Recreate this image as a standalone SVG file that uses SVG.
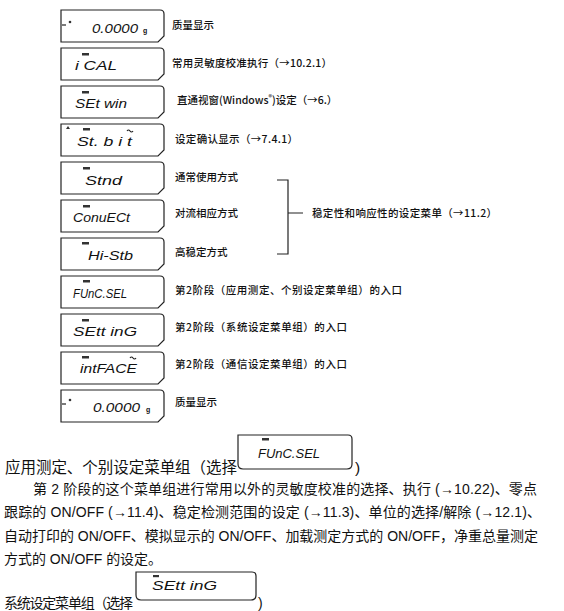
<svg xmlns="http://www.w3.org/2000/svg" width="564" height="611" viewBox="0 0 564 611">
<style>
.bx{fill:#fff;stroke:#222;stroke-width:1.2}
.lcd{font-family:"Liberation Sans","DejaVu Sans",sans-serif;font-style:italic;font-size:12.5px;fill:#111}
.g{font-family:"Liberation Sans",sans-serif;font-size:7px;font-weight:bold;fill:#111}
.lb{font-family:"Noto Sans CJK SC","Liberation Sans",sans-serif;font-size:10.5px;font-weight:500;fill:#111}
.p{font-family:"Liberation Sans","Noto Sans CJK SC",sans-serif;font-size:14px;fill:#111}
.h{font-family:"Liberation Sans","Noto Sans CJK SC",sans-serif;font-size:15.5px;fill:#111}
.mn{fill:#333}
.ln{stroke:#222;stroke-width:1.2;fill:none}
</style>
<defs>
<path id="box" d="M0,0 H99 Q103,0 103,4 V26 L97,32 H0 Z"/>
</defs>
<rect width="564" height="611" fill="#fff"/>

<g id="n1">
<use href="#box" x="61" y="10" class="bx"/>
<line x1="62" y1="25" x2="66" y2="25" class="ln"/>
<circle cx="70" cy="22" r="1.3" class="mn"/>
<text x="92" y="33" class="lcd" textLength="46" lengthAdjust="spacingAndGlyphs">0.0000</text>
<text x="143" y="33" class="g">g</text>
<text x="172" y="29" class="lb">质量显示</text>
</g>

<g id="n2">
<use href="#box" x="61" y="48" class="bx"/>
<rect x="82" y="53" width="7" height="2.5" class="mn"/>
<text x="75" y="70" class="lcd" textLength="42" lengthAdjust="spacingAndGlyphs">i CAL</text>
<text x="172" y="67" class="lb" textLength="160" lengthAdjust="spacing">常用灵敏度校准执行（→10.2.1）</text>
</g>

<g id="n3">
<use href="#box" x="61" y="86" class="bx"/>
<rect x="82" y="91" width="7" height="2.5" class="mn"/>
<text x="75" y="108" class="lcd" textLength="52" lengthAdjust="spacingAndGlyphs">SEt win</text>
<text x="177" y="104" class="lb">直通视窗(Windows<tspan font-size="7" dy="-4">®</tspan><tspan dy="4">)设定（→6.）</tspan></text>
</g>

<g id="n4">
<use href="#box" x="61" y="124" class="bx"/>
<path d="M66,129 L68,126 L70,129 Z" class="mn"/>
<rect x="83" y="128" width="7" height="2.5" class="mn"/>
<path d="M127,131 q1.5,-2 3,0 q1.5,2 3,0" class="ln" stroke-width="0.8"/>
<text x="77" y="146" class="lcd" textLength="55" lengthAdjust="spacingAndGlyphs">St. b i t</text>
<text x="175" y="143" class="lb" textLength="123" lengthAdjust="spacing">设定确认显示（→7.4.1）</text>
</g>

<g id="n5">
<use href="#box" x="61" y="162" class="bx"/>
<rect x="83" y="167" width="7" height="2.5" class="mn"/>
<text x="85" y="185" class="lcd" textLength="37" lengthAdjust="spacingAndGlyphs">Stnd</text>
<text x="175" y="181" class="lb">通常使用方式</text>
</g>

<g id="n6">
<use href="#box" x="61" y="200" class="bx"/>
<rect x="83" y="205" width="7" height="2.5" class="mn"/>
<text x="73" y="222" class="lcd" textLength="57" lengthAdjust="spacingAndGlyphs">ConuECt</text>
<text x="175" y="217" class="lb">对流相应方式</text>
</g>

<g id="n7">
<use href="#box" x="61" y="238" class="bx"/>
<rect x="82" y="242" width="7" height="2.5" class="mn"/>
<text x="88" y="260" class="lcd" textLength="45" lengthAdjust="spacingAndGlyphs">Hi-Stb</text>
<text x="175" y="256" class="lb">高稳定方式</text>
</g>

<g id="n8">
<use href="#box" x="61" y="276" class="bx"/>
<rect x="83" y="280" width="7" height="2.5" class="mn"/>
<text x="73" y="298" class="lcd" textLength="54" lengthAdjust="spacingAndGlyphs">FUnC.SEL</text>
<text x="175" y="294" class="lb" textLength="227" lengthAdjust="spacing">第2阶段（应用测定、个别设定菜单组）的入口</text>
</g>

<g id="n9">
<use href="#box" x="61" y="314" class="bx"/>
<rect x="82" y="319" width="7" height="2.5" class="mn"/>
<text x="73" y="336" class="lcd" textLength="64" lengthAdjust="spacingAndGlyphs">SEtt inG</text>
<text x="175" y="331" class="lb" textLength="172" lengthAdjust="spacing">第2阶段（系统设定菜单组）的入口</text>
</g>

<g id="n10">
<use href="#box" x="61" y="352" class="bx"/>
<rect x="82" y="356" width="7" height="2.5" class="mn"/>
<path d="M130,358 q1.5,-2 3,0 q1.5,2 3,0" class="ln" stroke-width="0.8"/>
<text x="80" y="373" class="lcd" textLength="57" lengthAdjust="spacingAndGlyphs">intFACE</text>
<text x="175" y="368" class="lb" textLength="172" lengthAdjust="spacing">第2阶段（通信设定菜单组）的入口</text>
</g>

<g id="n11">
<use href="#box" x="61" y="390" class="bx"/>
<line x1="62" y1="404" x2="66" y2="404" class="ln"/>
<circle cx="70" cy="400" r="1.3" class="mn"/>
<text x="93" y="412" class="lcd" textLength="47" lengthAdjust="spacingAndGlyphs">0.0000</text>
<text x="146" y="412" class="g">g</text>
<text x="175" y="406" class="lb">质量显示</text>
</g>

<g id="connectors">
<path d="M277,180 H288 V254 H277 M288,213 H303" class="ln"/>
</g>
<g id="bracket-label">
<text x="312" y="217" class="lb" textLength="185" lengthAdjust="spacing">稳定性和响应性的设定菜单（→11.2）</text>
</g>

<g id="para">
<text x="5" y="473" class="h" textLength="232" lengthAdjust="spacing">应用测定、个别设定菜单组（选择</text>
<g id="inline-funcsel">
<path d="M238,435 H348 Q352,435 352,439 V464 Q352,469 347,469 H243 Q238,469 238,464 Z" class="bx"/>
<rect x="262" y="438" width="7" height="2.5" class="mn"/>
<text x="258" y="458" class="lcd" textLength="62" lengthAdjust="spacingAndGlyphs">FUnC.SEL</text>
</g>
<text x="355" y="473" class="h">)</text>
<text x="33" y="494" class="p" textLength="504" lengthAdjust="spacing">第 2 阶段的这个菜单组进行常用以外的灵敏度校准的选择、执行 (→10.22)、零点</text>
<text x="4" y="517" class="p" textLength="537" lengthAdjust="spacing">跟踪的 ON/OFF (→11.4)、稳定检测范围的设定 (→11.3)、单位的选择/解除 (→12.1)、</text>
<text x="4" y="541" class="p" textLength="534" lengthAdjust="spacing">自动打印的 ON/OFF、模拟显示的 ON/OFF、加载测定方式的 ON/OFF，净重总量测定</text>
<text x="4" y="564" class="p" textLength="158" lengthAdjust="spacing">方式的 ON/OFF 的设定。</text>
<text x="4" y="608" class="p" font-size="13.5" textLength="129" lengthAdjust="spacing">系统设定菜单组（选择</text>
<g id="inline-setting">
<path d="M136,572 H252 Q256,572 256,576 V595 Q256,600 251,600 H141 Q136,600 136,595 Z" class="bx"/>
<rect x="153" y="575" width="6" height="2.2" class="mn"/>
<text x="152" y="590" class="lcd" textLength="65" lengthAdjust="spacingAndGlyphs">SEtt inG</text>
</g>
<text x="258" y="608" class="p">)</text>
</g>
</svg>
